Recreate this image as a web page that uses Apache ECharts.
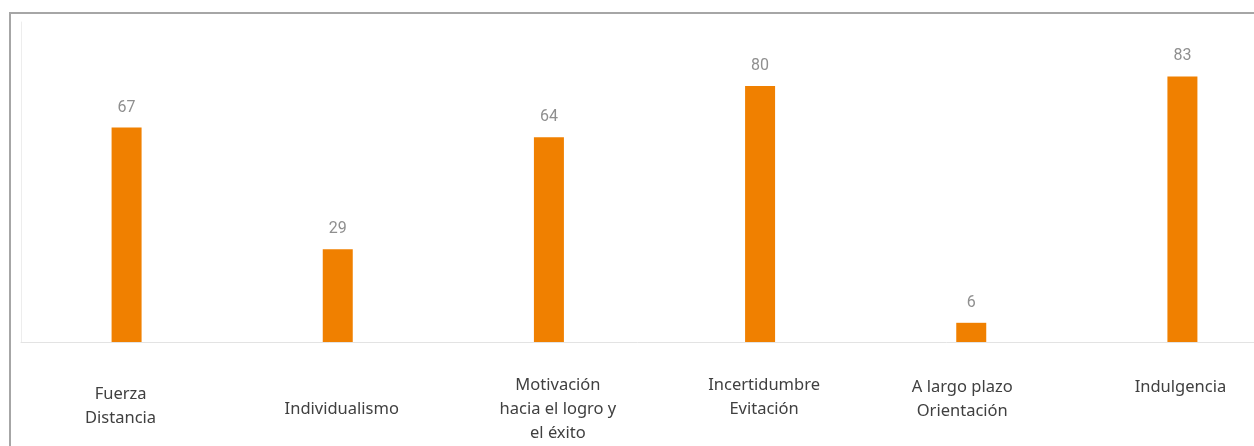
<!DOCTYPE html>
<html>
<head>
<meta charset="utf-8">
<script src="https://cdn.jsdelivr.net/npm/echarts@6/dist/echarts.min.js"></script>
<style>
  html, body { margin: 0; padding: 0; background: #fff; }
  #chart { width: 1254px; height: 446px; }
</style>
</head>
<body>
<div id="chart"></div>
<script>
// categories and values
const categories = [
    'Fuerza\nDistancia',
    'Individualismo',
    'Motivación\nhacia el logro y\nel éxito',
    'Incertidumbre\nEvitación',
    'A largo plazo\nOrientación',
    'Indulgencia'
];
const scores = [67, 29, 64, 80, 6, 83];
// the original labels are not all aligned under their bars
const labelShiftY = [9, 24, 0, 0, 2, 2];
const labelShiftX = [-6, 4, 9, 4, -9, -2];

const chart = echarts.init(document.getElementById('chart'), null, {renderer: 'canvas'});

const option = {
    animation: false,
    grid: {
        left: 21,
        top: 22,
        bottom: 104,
        width: 1267,
        outerBoundsMode: 'none'
    },
    graphic: [
        {
            type: 'rect',
            shape: {x: 10, y: 13, width: 1400, height: 600},
            style: {fill: 'none', stroke: '#a6a6a6', lineWidth: 2},
            silent: true
        }
    ],
    xAxis: {
        type: 'category',
        data: categories.map((c, i) => ({
            value: c,
            textStyle: {
                padding: [
                    labelShiftY[i],
                    Math.max(0, -2 * labelShiftX[i]),
                    0,
                    Math.max(0, 2 * labelShiftX[i])
                ]
            }
        })),
        axisLine: {lineStyle: {color: '#e3e3e3', width: 1}},
        axisTick: {show: false},
        axisLabel: {
            interval: 0,
            margin: 31,
            verticalAlign: 'top',
            lineHeight: 24,
            fontSize: 16.5,
            fontFamily: 'Noto Sans',
            color: '#404040'
        }
    },
    yAxis: {
        type: 'value',
        min: 0,
        max: 100,
        axisLine: {show: true, lineStyle: {color: '#ededed'}},
        axisTick: {show: false},
        axisLabel: {show: false},
        splitLine: {show: false}
    },
    series: [
        {
            type: 'bar',
            data: scores,
            barWidth: 30,
            itemStyle: {color: '#f08000'},
            label: {
                show: true,
                position: 'top',
                distance: 12,
                fontSize: 16,
                fontFamily: 'Roboto',
                color: '#8f8f8f'
            }
        }
    ]
};

chart.setOption(option);
</script>
</body>
</html>
